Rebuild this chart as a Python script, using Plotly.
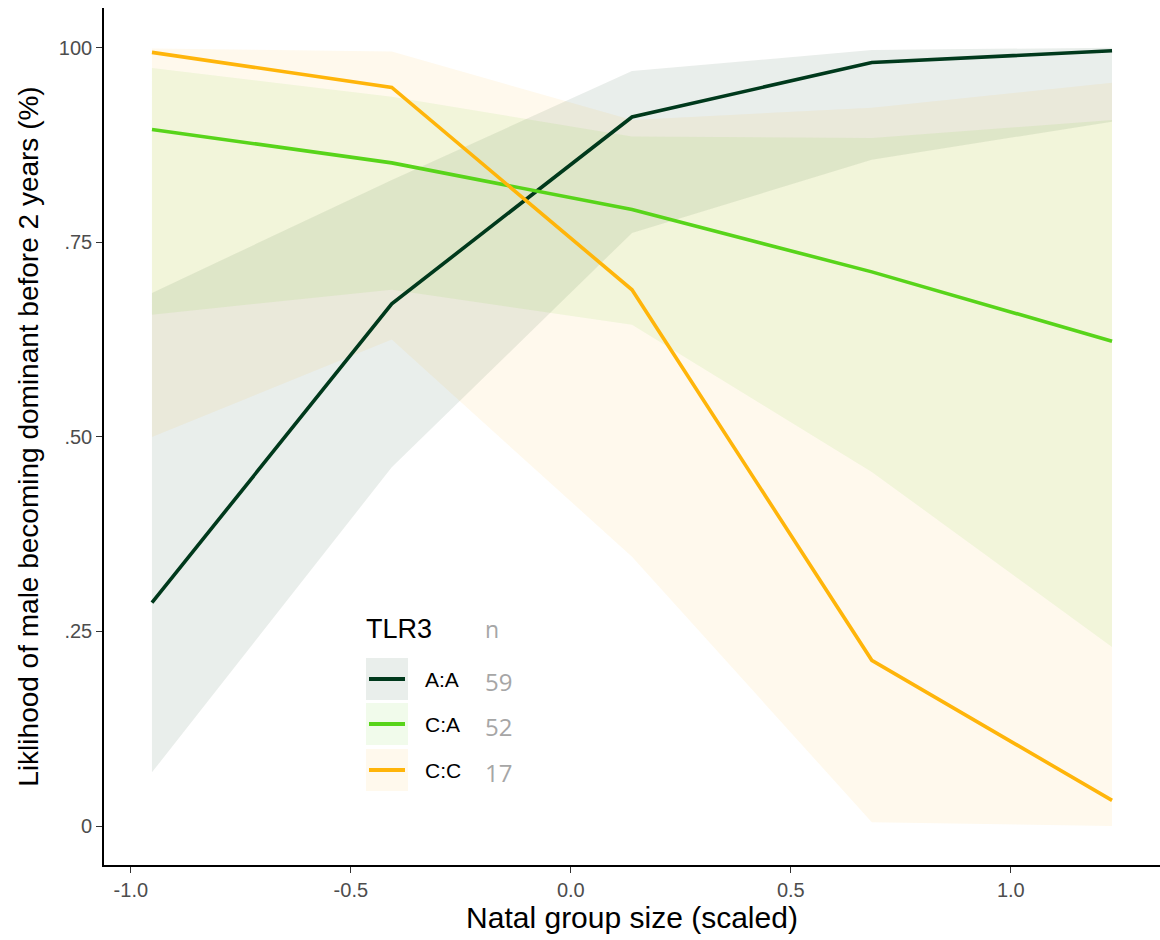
import plotly.graph_objects as go

# Scaled natal group size at which predictions were made
x_vals = [-0.952, -0.407, 0.139, 0.684, 1.230]

# Predicted probability and 95% confidence band per TLR3 genotype
aa_fit = [0.287, 0.671, 0.911, 0.981, 0.996]
aa_lo = [0.069, 0.461, 0.762, 0.856, 0.905]
aa_hi = [0.685, 0.830, 0.970, 0.997, 1.000]

ca_fit = [0.895, 0.852, 0.792, 0.712, 0.623]
ca_lo = [0.657, 0.689, 0.644, 0.455, 0.230]
ca_hi = [0.974, 0.937, 0.886, 0.884, 0.907]

cc_fit = [0.994, 0.949, 0.689, 0.213, 0.033]
cc_lo = [0.500, 0.625, 0.346, 0.005, 0.000]
cc_hi = [0.999, 0.995, 0.907, 0.923, 0.955]

genotypes = ["A:A", "C:A", "C:C"]
sample_sizes = [59, 52, 17]
line_colors = ["#00391C", "#58D41A", "#FFB50A"]
band_colors = ["rgba(0,57,28,0.085)", "rgba(88,212,26,0.085)", "rgba(255,181,10,0.075)"]

y_tickvals = [0, 0.25, 0.5, 0.75, 1.0]
y_ticktext = ["0", ".25", ".50", ".75", "100"]
x_tickvals = [-1.0, -0.5, 0.0, 0.5, 1.0]
x_ticktext = ["-1.0", "-0.5", "0.0", "0.5", "1.0"]

series = [
    (aa_fit, aa_lo, aa_hi),
    (ca_fit, ca_lo, ca_hi),
    (cc_fit, cc_lo, cc_hi),
]

FONT = "Liberation Sans, Arial, sans-serif"
NFONT = "Open Sans, sans-serif"

fig = go.Figure()

# Confidence bands
for (fit, lo, hi), col in zip(series, band_colors):
    fig.add_trace(go.Scatter(
        x=x_vals + x_vals[::-1],
        y=hi + lo[::-1],
        fill="toself",
        fillcolor=col,
        line=dict(width=0),
        mode="lines",
        hoverinfo="skip",
        showlegend=False,
    ))

# Fitted lines
for (fit, lo, hi), col, name in zip(series, line_colors, genotypes):
    fig.add_trace(go.Scatter(
        x=x_vals, y=fit, mode="lines", name=name,
        line=dict(color=col, width=3.6),
        showlegend=False,
    ))

# Plot area in pixels: left 104, right 1160, top 8, bottom 865
W, H = 1160, 940
L, R, T, B = 104, 1160, 8, 865


def px(x):
    return (x - L) / (R - L)


def py(y):
    return (B - y) / (B - T)


shapes = []
annotations = []

# Legend block
annotations.append(dict(text="TLR3", x=px(364), y=py(629), xref="paper", yref="paper",
                        xanchor="left", yanchor="middle", showarrow=False,
                        font=dict(family=FONT, size=27, color="#000000")))
annotations.append(dict(text="n", x=px(483), y=py(629), xref="paper", yref="paper",
                        xanchor="left", yanchor="middle", showarrow=False,
                        font=dict(family=NFONT, size=23, color="#A6A6A6")))

key_tops = [658, 703, 749]
for i, (name, n, lc, bc) in enumerate(zip(genotypes, sample_sizes, line_colors, band_colors)):
    top = key_tops[i]
    bottom = top + 42
    mid = (top + bottom) / 2
    shapes.append(dict(type="rect", xref="paper", yref="paper",
                       x0=px(366), x1=px(408), y0=py(bottom), y1=py(top),
                       fillcolor=bc, line=dict(width=0), layer="above"))
    shapes.append(dict(type="line", xref="paper", yref="paper",
                       x0=px(369), x1=px(405), y0=py(mid), y1=py(mid),
                       line=dict(color=lc, width=4), layer="above"))
    annotations.append(dict(text=name, x=px(423), y=py(mid), xref="paper", yref="paper",
                            xanchor="left", yanchor="middle", showarrow=False,
                            font=dict(family=FONT, size=21, color="#000000")))
    annotations.append(dict(text=str(n), x=px(483), y=py(mid + 2), xref="paper", yref="paper",
                            xanchor="left", yanchor="middle", showarrow=False,
                            font=dict(family=NFONT, size=24, color="#A6A6A6")))

fig.update_layout(
    width=W, height=H,
    margin=dict(l=L, r=W - R, t=T, b=H - B),
    paper_bgcolor="white",
    plot_bgcolor="white",
    font=dict(family=FONT, color="#4D4D4D"),
    shapes=shapes,
    annotations=annotations,
    showlegend=False,
)

fig.update_xaxes(
    range=[-1.061, 1.339],
    tickvals=x_tickvals, ticktext=x_ticktext,
    showgrid=False, zeroline=False,
    showline=True, linecolor="#000000", linewidth=1.6,
    ticks="outside", ticklen=6, tickcolor="#333333", tickwidth=1.2,
    tickfont=dict(family=FONT, size=20, color="#4D4D4D"),
    title=dict(text="Natal group size (scaled)", standoff=7,
               font=dict(family=FONT, size=30, color="#000000")),
)
fig.update_yaxes(
    range=[-0.05, 1.051],
    tickvals=y_tickvals, ticktext=y_ticktext,
    showgrid=False, zeroline=False,
    showline=True, linecolor="#000000", linewidth=1.6,
    ticks="outside", ticklen=6, tickcolor="#333333", tickwidth=1.2,
    tickfont=dict(family=FONT, size=20, color="#4D4D4D"),
    title=dict(text="Liklihood of male becoming dominant before 2 years (%)", standoff=12,
               font=dict(family=FONT, size=28, color="#000000")),
)

fig.write_html("out.html")
